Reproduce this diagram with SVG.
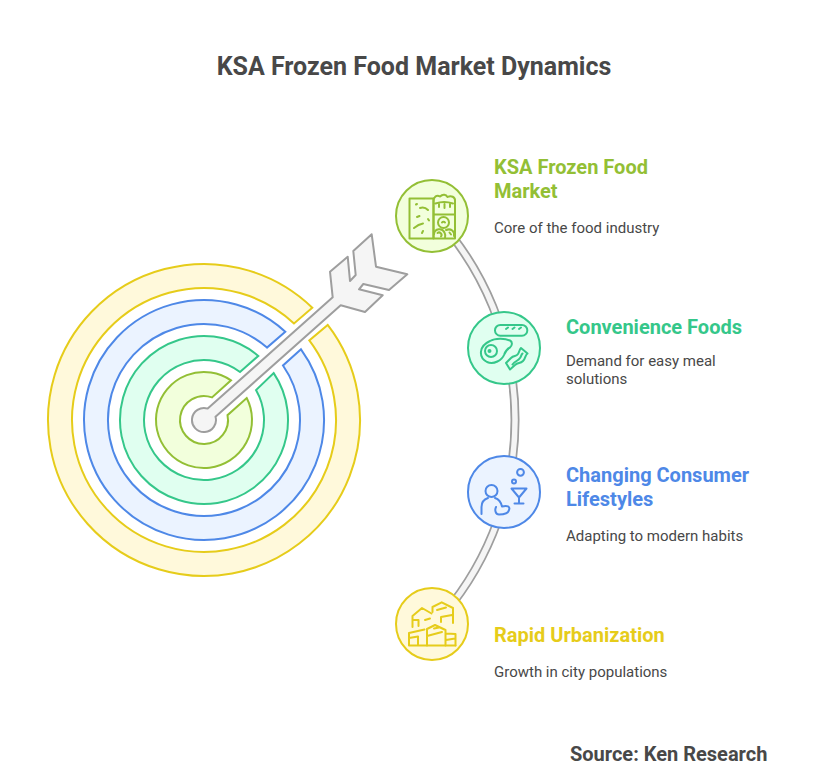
<svg xmlns="http://www.w3.org/2000/svg" width="828" height="781" viewBox="0 0 828 781">
<style>
text{font-family:Roboto,"Liberation Sans",sans-serif;fill:#484848}
.title{font-size:25px;font-weight:700}
.head{font-size:20px;font-weight:700}
.desc{font-size:15px}
.src{font-size:20px;font-weight:700}
.ring,.node{stroke-width:2}
.lime{stroke:#93BF35;fill:#F2FFDC}
.green{stroke:#35C78A;fill:#E0FFF0}
.blue{stroke:#4E88E7;fill:#EBF3FF}
.yellow{stroke:#E6CC1A;fill:#FFF9DB}
.ic{fill:none;stroke-width:2;stroke-linecap:round;stroke-linejoin:round}
.l{stroke:#93BF35}.g{stroke:#35C78A}.b{stroke:#4E88E7}.y{stroke:#E6CC1A}
.tl{fill:#93BF35}.tg{fill:#35C78A}.tb{fill:#4E88E7}.ty{fill:#E6CC1A}
</style>
<rect width="828" height="781" fill="#fff"/>
<text class="title" x="414" y="75" text-anchor="middle">KSA Frozen Food Market Dynamics</text>
<g id="connectors" fill="none">
<path d="M435 216A300 300 0 0 1 435 624" stroke="#9E9E9E" stroke-width="9"/>
<path d="M435 216A300 300 0 0 1 435 624" stroke="#F5F5F5" stroke-width="5.5"/>
</g>
<g id="target">
<path class="ring yellow" d="M327.7 324.95A156 156 0 1 1 312.3 307.72L294 323.44A132 132 0 1 0 309.3 340.4Z"/>
<path class="ring blue" d="M301 349.35A120 120 0 1 1 285.3 331.74L267 347.56A96 96 0 1 0 283 365.46Z"/>
<path class="ring green" d="M273.7 373.12A84 84 0 1 1 258.3 355.91L240 372A60 60 0 1 0 256 390.07Z"/>
<path class="ring lime" d="M246.7 398.07A48 48 0 1 1 231 380.31L212 397.37A24 24 0 1 0 227.5 415.13Z"/>
</g>
<g id="arrow">
<path d="M207.7 408.6A12 12 0 1 0 215.5 416.7L340.7 305.3L365 312L382.7 295.3L359 289.3L363.3 284L389 290L407.3 274.3L376 266.7L371.7 234.3L353.3 251L355.7 275L350 281L347.7 256.7L330 271.7L332.7 297.3Z" fill="#F5F5F5" stroke="#9E9E9E" stroke-width="2" stroke-linejoin="round"/>
</g>
<g id="node-market">
<circle class="node lime" cx="432" cy="216" r="36"/>
<g class="ic l">
<rect x="409.5" y="198.5" width="24" height="40"/>
<path d="M433.5 238.5H455V214.500M433.5 214.500V238.5M433.500 214.500H455M433.500 214.500V201C433.500 196.500 437 194.500 440 196.500C443 193.500 446 194.500 447.500 197C451 195 455.500 197 455 201V214.500M435.500 203.500C441 201.500 447 201.500 453 203.500"/>
<path d="M439 204V207M444.500 204V208M450 204V207"/>
<circle cx="443.500" cy="222.500" r="5.500"/><path d="M442 222.500A1.800 1.800 0 0 1 445 222.500"/>
<path d="M434 234A5.500 5.500 0 0 1 444.500 232.500C445.500 234.500 445.500 236.500 445 238M441 236.500A2.500 2.500 0 0 0 437.500 233M446 230C451 228 455 231.500 454 236M451 234.500L449.500 232.500"/>
<path d="M420 208C423 207 426 208 428 210M416 204.500L417 204M417 217L419.500 216M414 228C417 225.500 420 224 423 223.500M428 219L429 220.500M422 233L423 231"/>
</g>
</g>
<g id="node-convenience">
<circle class="node green" cx="504" cy="348" r="36"/>
<g class="ic g">
<rect x="495" y="325" width="32.300" height="10.700" rx="5.300"/>
<path d="M506 329L508 327.500M512.500 329L514.500 327.500M519 329L521 327.500"/>
<path d="M490 341C495 338 505 338 510 340.500C513 342 512 346 510 347.500C506 349.500 505 352 504 355C502 360 494 365 487 362C478 357 479 346 490 341Z"/>
<circle cx="491" cy="351" r="6"/><circle cx="489.500" cy="351" r="1"/>
<path d="M506 363L511 358C514 355 516 357 518 354C520 351 519 350 521 348L527.500 353.500C525 355 526 358 523 361C520 364 518 362 515 365L510 369.500ZM512.500 364.500C515 361 518 361 520 358C521.500 356 521 355 522.500 353.500"/>
</g>
</g>
<g id="node-lifestyles">
<circle class="node blue" cx="504" cy="492" r="36"/>
<g class="ic b">
<circle cx="491.500" cy="491" r="6"/>
<path d="M481.500 514V507C481.500 502 485 499 488 498M495 498C498 499 501 502 502 506.500C507 505 510.500 506.500 509 510C508 514 503 514.500 499 514.500C495.500 514.500 494.500 510 496 507"/>
<path d="M511.500 488.500H526.500L519 497.500ZM519 497.500V503.500M514.500 503.500H523.500"/>
<circle cx="520.500" cy="472.300" r="3.400"/><circle cx="514" cy="481.500" r="2"/>
</g>
</g>
<g id="node-urbanization">
<circle class="node yellow" cx="432" cy="624" r="36"/>
<g class="ic y">
<path d="M409 645.500H455.500M409 645.500V633L424.500 629.500M409 638L418 636.500V645.500"/>
<path d="M427 645.500V629L435 625L445.500 630V645.500M427 636L442 632M446 633.500L455.500 634V645.500M446 640L455 638.500M434 628.500L439 627.500"/>
<path d="M412.500 627V616L422 608L431.500 613.500M412.500 620H418.500V626M425 620L430 618.500"/>
<path d="M432.500 612V607L441.700 602.300L453 608V623M437 610L446 607.500M441 617L452 615M441 617V622"/>
</g>
</g>
<g id="label-market">
<text class="head tl" x="494" y="174">KSA Frozen Food</text>
<text class="head tl" x="494" y="198">Market</text>
<text class="desc" x="494" y="233">Core of the food industry</text>
</g>
<g id="label-convenience">
<text class="head tg" x="566" y="334">Convenience Foods</text>
<text class="desc" x="566" y="366">Demand for easy meal</text>
<text class="desc" x="566" y="384">solutions</text>
</g>
<g id="label-lifestyles">
<text class="head tb" x="566" y="482">Changing Consumer</text>
<text class="head tb" x="566" y="506">Lifestyles</text>
<text class="desc" x="566" y="541">Adapting to modern habits</text>
</g>
<g id="label-urbanization">
<text class="head ty" x="494" y="642">Rapid Urbanization</text>
<text class="desc" x="494" y="677">Growth in city populations</text>
</g>
<text class="src" x="570" y="761">Source: Ken Research</text>
</svg>
